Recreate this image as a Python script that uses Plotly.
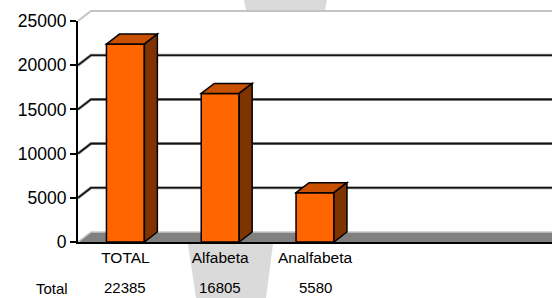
import plotly.graph_objects as go

# ---- data ----
categories = ["TOTAL", "Alfabeta", "Analfabeta"]
values = [22385, 16805, 5580]
table_label = "Total"
y_ticks = [0, 5000, 10000, 15000, 20000, 25000]
y_max = 25000
n_slots = 5  # category slots on the axis (only 3 used)

# ---- layout constants (pixels) ----
W, H = 552, 298
ML, MR, MT, MB = 78, 0, 21, 56
PW = W - ML - MR
PH = H - MT - MB
X_RANGE = [-0.5, n_slots - 0.5]
x_per_px = (X_RANGE[1] - X_RANGE[0]) / PW
y_per_px = y_max / PH
DX = 13 * x_per_px       # depth offset (3D look)
DY = 10 * y_per_px
BAR_W = 0.4

FONT = "Arial, Liberation Sans, sans-serif"
FRONT = "#FF6600"
TOP = "#C85000"
SIDE = "#7F3300"

shapes = []

def px2paper_x(px):
    return (px - ML) / PW

def px2paper_y(py):
    return (H - MB - py) / PH

# watermark fragments outside plot area
shapes.append(dict(type="path", xref="paper", yref="paper", layer="below",
                   path=f"M {px2paper_x(244)},{px2paper_y(0)} L {px2paper_x(327)},{px2paper_y(0)} "
                        f"L {px2paper_x(325)},{px2paper_y(10)} L {px2paper_x(246)},{px2paper_y(10)} Z",
                   fillcolor="#dadada", line=dict(width=0)))
shapes.append(dict(type="path", xref="paper", yref="paper", layer="below",
                   path=f"M {px2paper_x(188)},{px2paper_y(244)} L {px2paper_x(273)},{px2paper_y(244)} "
                        f"L {px2paper_x(266)},{px2paper_y(298)} L {px2paper_x(196)},{px2paper_y(298)} Z",
                   fillcolor="#dadada", line=dict(width=0)))

x0w = X_RANGE[0]
x1w = X_RANGE[1] + 1

# floor
shapes.append(dict(type="path", xref="x", yref="y", layer="below",
                   path=f"M {x0w},0 L {x0w+DX},{DY} L {x1w+DX},{DY} L {x1w},0 Z",
                   fillcolor="#808080", line=dict(width=0)))

# back wall gridlines + left wall diagonals
for v in y_ticks:
    p = f"M {x0w},{v} L {x0w+DX},{v+DY} L {x1w+DX},{v+DY}"
    if v == 0:
        shapes.append(dict(type="path", xref="x", yref="y", layer="below", path=p,
                           line=dict(color="#c8c8c8", width=1.5)))
    elif v == y_max:
        pp = (f"M {x0w},1 L {x0w+DX},{(v+DY)/y_max} L {x1w+DX},{(v+DY)/y_max}")
        shapes.append(dict(type="path", xref="x", yref="paper", layer="below", path=pp,
                           line=dict(color="#c4c4c4", width=2)))
    else:
        shapes.append(dict(type="path", xref="x", yref="y", layer="below", path=p,
                           line=dict(color="#9a9a9a", width=3)))
        shapes.append(dict(type="path", xref="x", yref="y", layer="below", path=p,
                           line=dict(color="#111111", width=1.6)))

# bar top and side faces
for i, v in enumerate(values):
    xl = i - BAR_W / 2
    xr = i + BAR_W / 2
    shapes.append(dict(type="path", xref="x", yref="y", layer="above",
                       path=f"M {xl},{v} L {xl+DX},{v+DY} L {xr+DX},{v+DY} L {xr},{v} Z",
                       fillcolor=TOP, line=dict(color="black", width=1.5)))
    shapes.append(dict(type="path", xref="x", yref="y", layer="above",
                       path=f"M {xr},{v} L {xr+DX},{v+DY} L {xr+DX},{DY} L {xr},0 Z",
                       fillcolor=SIDE, line=dict(color="black", width=1.5)))

fig = go.Figure()
fig.add_trace(go.Bar(x=list(range(len(categories))), y=values, width=BAR_W,
                     marker=dict(color=FRONT, line=dict(color="black", width=1.5)),
                     hoverinfo="skip"))

annotations = []
annotations.append(dict(xref="paper", yref="paper", x=px2paper_x(52), y=px2paper_y(288),
                        text=table_label, showarrow=False, xanchor="center", yanchor="middle",
                        font=dict(family=FONT, size=15, color="black")))
for i, v in enumerate(values):
    annotations.append(dict(xref="x", yref="paper", x=i, y=px2paper_y(287),
                            text=str(v), showarrow=False, xanchor="center", yanchor="middle",
                            font=dict(family=FONT, size=15, color="black")))

fig.update_layout(
    width=W, height=H,
    margin=dict(l=ML, r=MR, t=MT, b=MB, pad=0),
    paper_bgcolor="white", plot_bgcolor="white",
    showlegend=False,
    shapes=shapes,
    annotations=annotations,
    xaxis=dict(range=X_RANGE, tickvals=list(range(len(categories))), ticktext=categories,
               showgrid=False, zeroline=False, showline=True, linecolor="black", linewidth=2,
               ticks="", ticklabelstandoff=0,
               tickfont=dict(family=FONT, size=15.5, color="black"), fixedrange=True),
    yaxis=dict(range=[0, y_max], tickvals=y_ticks, ticktext=[str(t) for t in y_ticks],
               showgrid=False, zeroline=False, showline=True, linecolor="black", linewidth=2,
               ticks="outside", ticklen=6, tickwidth=1.5, tickcolor="black",
               tickfont=dict(family=FONT, size=17.5, color="black"), fixedrange=True),
)

fig.write_html("out.html", config={"displayModeBar": False},
               post_script="document.body.style.margin='0px';document.body.style.overflow='hidden';")
